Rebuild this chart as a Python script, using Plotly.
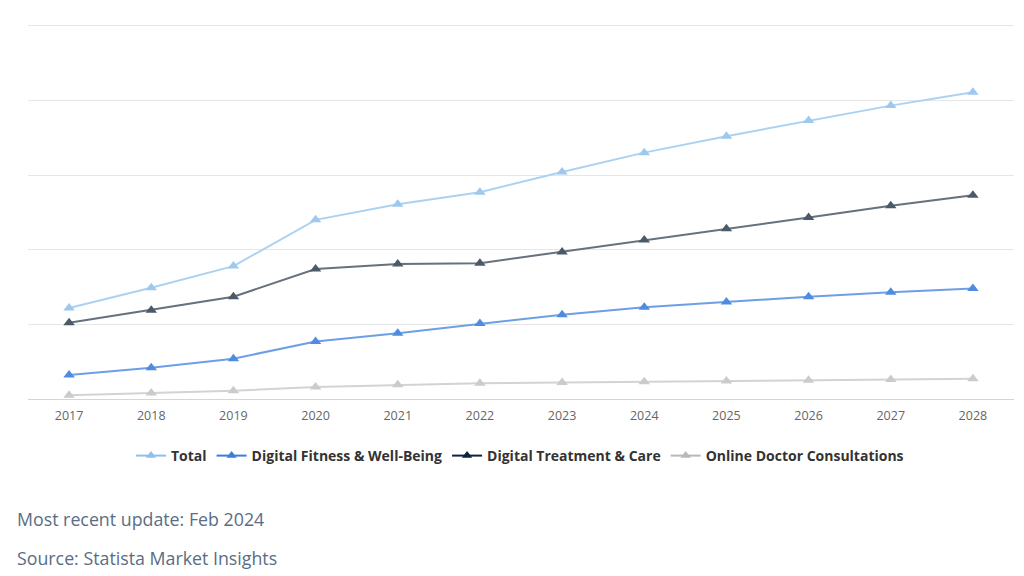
import plotly.graph_objects as go

years = ["2017", "2018", "2019", "2020", "2021", "2022", "2023", "2024", "2025", "2026", "2027", "2028"]
total = [1.22, 1.49, 1.78, 2.40, 2.61, 2.77, 3.04, 3.30, 3.52, 3.73, 3.93, 4.11]
fitness = [0.32, 0.42, 0.54, 0.77, 0.88, 1.01, 1.13, 1.23, 1.30, 1.37, 1.43, 1.48]
treatment = [1.02, 1.19, 1.37, 1.74, 1.81, 1.82, 1.97, 2.13, 2.28, 2.43, 2.59, 2.73]
online = [0.05, 0.08, 0.11, 0.16, 0.19, 0.21, 0.22, 0.23, 0.24, 0.25, 0.26, 0.27]

series = [
    ("Total", total, "#acd2f1", "#9ec8ee", "#8fc0ea"),
    ("Digital Fitness & Well-Being", fitness, "#6c9fe5", "#4f8ce0", "#3b7ddd"),
    ("Digital Treatment & Care", treatment, "#66717d", "#4b5968", "#0e2340"),
    ("Online Doctor Consultations", online, "#d3d3d3", "#cbcbcb", "#b8b8b8"),
]

fig = go.Figure()
for name, vals, lc, mc, legc in series:
    fig.add_trace(go.Scatter(
        x=years, y=vals, mode="lines+markers", name=name, showlegend=False,
        line=dict(color=lc, width=2),
        marker=dict(symbol="triangle-up", size=10, color=mc),
        hoverinfo="x+y+name",
    ))
for name, vals, lc, mc, legc in series:
    fig.add_trace(go.Scatter(
        x=[None], y=[None], mode="lines+markers", name=name,
        line=dict(color=legc, width=2),
        marker=dict(symbol="triangle-up", size=9, color=legc),
    ))

plot_h = 399 - 22
plot_w = 1014 - 28
fig.update_layout(
    width=1024, height=576,
    margin=dict(l=28, r=10, t=22, b=177, autoexpand=False),
    paper_bgcolor="white", plot_bgcolor="white",
    font=dict(family="Open Sans", color="#333333"),
    xaxis=dict(
        type="category", range=[-0.5, len(years) - 0.5],
        showgrid=False, showline=True, linecolor="#ccd6eb", linewidth=1,
        ticks="", tickfont=dict(size=12.5, color="#666666"), zeroline=False,
        ticklabelstandoff=5, automargin=False,
    ),
    yaxis=dict(
        range=[0, 5.05], tickvals=[0, 1, 2, 3, 4, 5], showticklabels=False,
        gridcolor="#e6e6e6", gridwidth=1, zeroline=False, showline=False,
        automargin=False,
    ),
    legend=dict(
        orientation="h", x=(520 - 28) / plot_w, xanchor="center", y=-(456-399)/plot_h, yanchor="middle",
        font=dict(size=14, color="#333333", family="Open Sans", weight="bold"),
        itemwidth=30, traceorder="normal",
    ),
    showlegend=True,
    annotations=[
        dict(text="Most recent update: Feb 2024", xref="paper", yref="paper",
             x=-13/plot_w, y=-(519-399)/plot_h, xanchor="left", yanchor="middle",
             showarrow=False, font=dict(size=17.8, color="#5a6d84", family="Open Sans")),
        dict(text="Source: Statista Market Insights", xref="paper", yref="paper",
             x=-13/plot_w, y=-(558-399)/plot_h, xanchor="left", yanchor="middle",
             showarrow=False, font=dict(size=17.8, color="#5a6d84", family="Open Sans")),
    ],
)

fig.write_html("out.html", config={"displayModeBar": False},
               post_script="document.body.style.margin='0';")
